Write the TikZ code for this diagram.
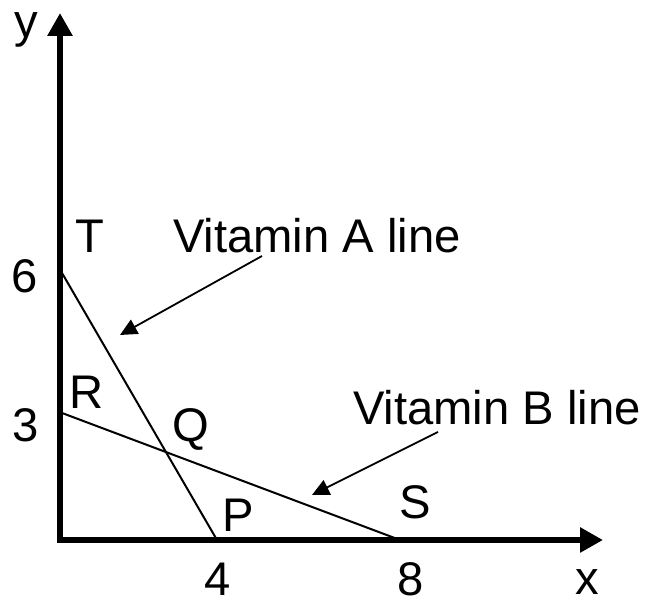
\documentclass[tikz,border=0pt]{standalone}
\usepackage{fontspec}
\setmainfont{Liberation Sans}
\usetikzlibrary{arrows.meta}

\begin{document}
\begin{tikzpicture}[
  x=0.5pt, y=0.5pt,
  axis/.style={line width=3.4pt, {Triangle[length=11.5pt, width=12pt]}-{Triangle[length=11.5pt, width=12pt]}},
  line/.style={line width=1pt},
  arrow/.style={-{Triangle[length=8.5pt, width=8pt]}, line width=0.9pt},
  lbl/.style={inner sep=0pt, font=\fontsize{23.6}{28}\selectfont}
]
\useasboundingbox (0,0) rectangle (648,603);

% axes
\coordinate (O) at (60,63);
\coordinate (ytip) at (60,590);
\coordinate (xtip) at (603,63);
\draw[axis] (ytip) -- (O) -- (xtip);

% constraint lines
\coordinate (T) at (62,330);
\coordinate (R) at (62,190);
\coordinate (P) at (217,63);
\coordinate (S) at (400,63);
\draw[line] (T) -- (P);
\draw[line] (R) -- (S);

% labels
\node[lbl] (ylbl) at (26,573) {y};
\node[lbl] (xlbl) at (587,21) {x};
\node[lbl] (six) at (25,327) {6};
\node[lbl] (three) at (26,178) {3};
\node[lbl] (four) at (218,24) {4};
\node[lbl] (eight) at (411,24) {8};
\node[lbl] (Tlbl) at (90,367) {T};
\node[lbl] (Rlbl) at (87,211) {R};
\node[lbl] (Qlbl) at (191,174) {Q};
\node[lbl] (Plbl) at (238,88) {P};
\node[lbl] (Slbl) at (415,101) {S};
\node[lbl] (vitA) at (317,367) {Vitamin A line};
\node[lbl] (vitB) at (497,195) {Vitamin B line};

% pointers
\coordinate (a1) at (262,347);
\coordinate (a2) at (120,268);
\coordinate (b1) at (438,171);
\coordinate (b2) at (312,108);
\draw[arrow] (a1) -- (a2);
\draw[arrow] (b1) -- (b2);

\end{tikzpicture}
\end{document}
